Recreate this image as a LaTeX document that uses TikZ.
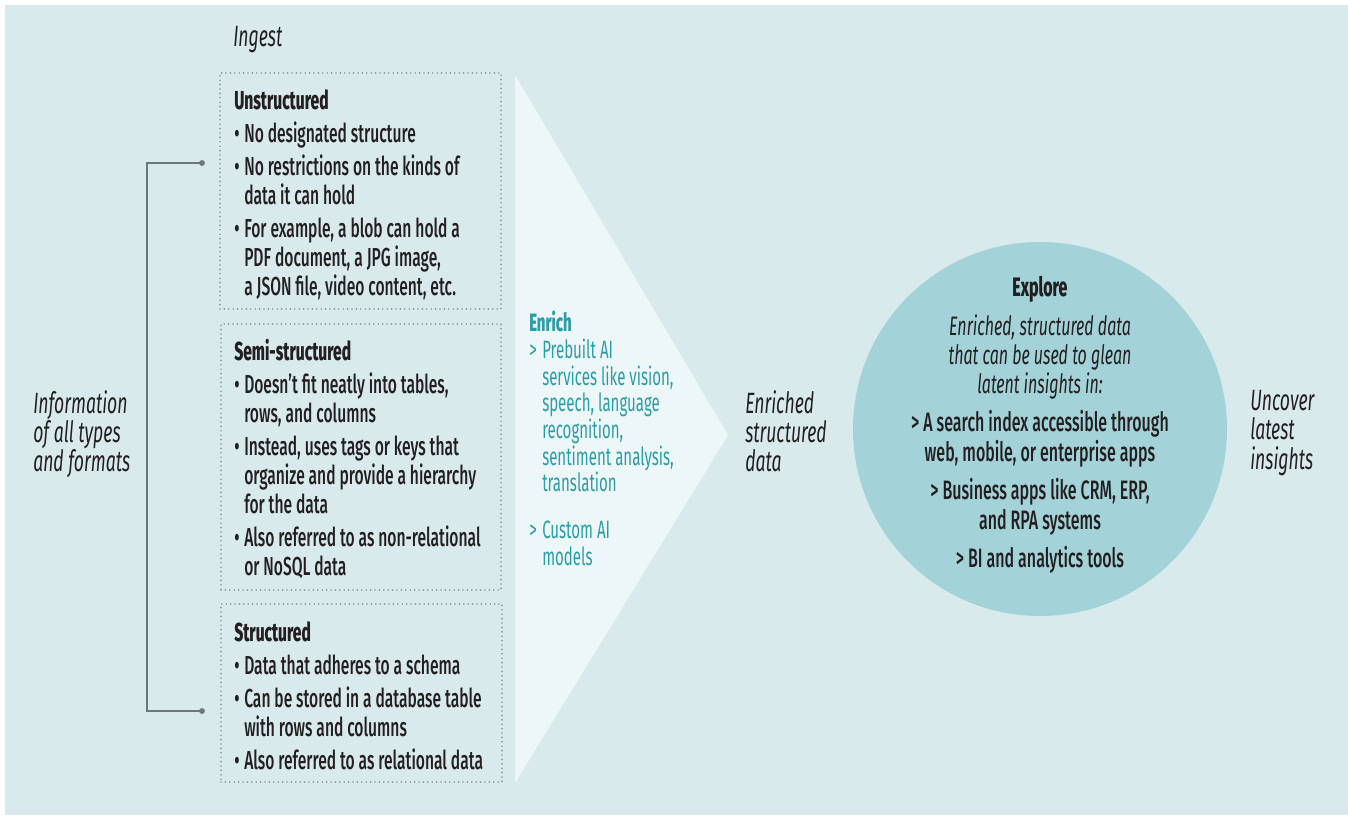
\documentclass[tikz,border=0pt]{standalone}
\usepackage{fontspec}
\setmainfont{Fira Sans}[FakeStretch=0.6, UprightFont=* Medium, BoldFont=* ExtraBold, ItalicFont=* Italic, BoldItalicFont=* Bold Italic]
\newfontfamily\enrichfont{Fira Sans}[FakeStretch=0.6, BoldFont=* ExtraBold]
\usetikzlibrary{fit}
\definecolor{bgblue}{HTML}{D9EAED}
\definecolor{trifill}{HTML}{EEF7F7}
\definecolor{circfill}{HTML}{A3D2D8}
\definecolor{teal}{HTML}{2A9DAA}
\definecolor{dotgray}{HTML}{8E999D}
\definecolor{linegray}{HTML}{6B777B}
\definecolor{ink}{HTML}{231F20}
\newcommand{\itm}{\makebox[7.5pt][l]{\textbullet}}
\newcommand{\cnt}{\hspace*{7.5pt}}
\newcommand{\gtmark}{\makebox[9.75pt][l]{>}}
\tikzset{
    boxframe/.style={draw=dotgray, line width=1.4pt, dash pattern=on 0pt off 3.3pt, line cap=round, inner sep=0pt},
    boxtext/.style={anchor=north west, align=left, inner sep=0pt, text=ink, font=\fontsize{19.5}{21.75}\selectfont},
    sidetext/.style={anchor=north west, align=left, inner sep=0pt, text=ink, font=\fontsize{22}{22}\selectfont\itshape},
    bracket/.style={draw=linegray, line width=1.1pt},
}
\begin{document}
\begin{tikzpicture}[x=0.75pt, y=-0.75pt]
    \useasboundingbox (0,0) rectangle (1348,815);
    \fill[bgblue] (5,5) rectangle (1348,815);
    % enrich arrow
    \coordinate (tritop) at (515,75);
    \coordinate (tritip) at (728,435);
    \coordinate (tribot) at (515,783);
    \fill[trifill] (tritop) -- (tritip) -- (tribot) -- cycle;
    % ingest boxes
    \coordinate (u1) at (220,73);  \coordinate (u2) at (501,309);
    \coordinate (s1) at (221,324); \coordinate (s2) at (501,590);
    \coordinate (t1) at (221,604); \coordinate (t2) at (502,782);
    \node[boxframe, fit=(u1)(u2)] (unst) {};
    \node[boxframe, fit=(s1)(s2)] (semi) {};
    \node[boxframe, fit=(t1)(t2)] (struc) {};
    \node[sidetext, anchor=west] (ingest) at (233,40) {Ingest};
    \node[boxtext] (unsttxt) at (234,89) {\textbf{Unstructured}\\[3pt]
        \itm No designated structure\\[3pt]
        \itm No restrictions on the kinds of\\ \cnt data it can hold\\[3pt]
        \itm For example, a blob can hold a\\ \cnt PDF document, a JPG image,\\ \cnt a JSON file, video content, etc.};
    \node[boxtext] (semitxt) at (234,339) {\textbf{Semi-structured}\\[3pt]
        \itm Doesn’t fit neatly into tables,\\ \cnt rows, and columns\\[3pt]
        \itm Instead, uses tags or keys that\\ \cnt organize and provide a hierarchy\\ \cnt for the data\\[3pt]
        \itm Also referred to as non-relational\\ \cnt or NoSQL data};
    \node[boxtext] (structxt) at (234,621) {\textbf{Structured}\\[3pt]
        \itm Data that adheres to a schema\\[3pt]
        \itm Can be stored in a database table\\ \cnt with rows and columns\\[3pt]
        \itm Also referred to as relational data};
    % bracket
    \coordinate (brtop) at (202,163);
    \coordinate (brbot) at (202,711);
    \draw[bracket] (brtop) -- ++(-55,0) |- (brbot);
    \fill[linegray] (brtop) circle (2.2pt) (brbot) circle (2.2pt);
    \node[sidetext] (info) at (33,390) {Information\\of all types\\and formats};
    % enrich
    \node[boxtext, text=teal, font=\fontsize{18.8}{20}\enrichfont] (enrich) at (529,311) {\textbf{Enrich}\\
        \gtmark Prebuilt AI\\ \hspace*{9.75pt}services like vision,\\ \hspace*{9.75pt}speech, language\\
        \hspace*{9.75pt}recognition,\\ \hspace*{9.75pt}sentiment analysis,\\ \hspace*{9.75pt}translation\\[15pt]
        \gtmark Custom AI\\ \hspace*{9.75pt}models};
    \node[sidetext] (enriched) at (745,390) {Enriched\\structured\\data};
    % explore
    \node[circle, fill=circfill, minimum size=280.5pt, inner sep=0pt] (explore) at (1040,429) {};
    \node[boxtext, anchor=north, align=center, font=\fontsize{20}{22}\selectfont] (exptxt) at (1040,276) {\textbf{Explore}\\[7pt]
        {\itshape Enriched, structured data}\\ {\itshape that can be used to glean}\\ {\itshape latent insights in:}\\[6.5pt]
        > A search index accessible through\\ web, mobile, or enterprise apps\\[7pt]
        > Business apps like CRM, ERP,\\ and RPA systems\\[7pt]
        > BI and analytics tools};
    \node[sidetext] (uncover) at (1250,390) {Uncover\\latest\\insights};
\end{tikzpicture}
\end{document}
